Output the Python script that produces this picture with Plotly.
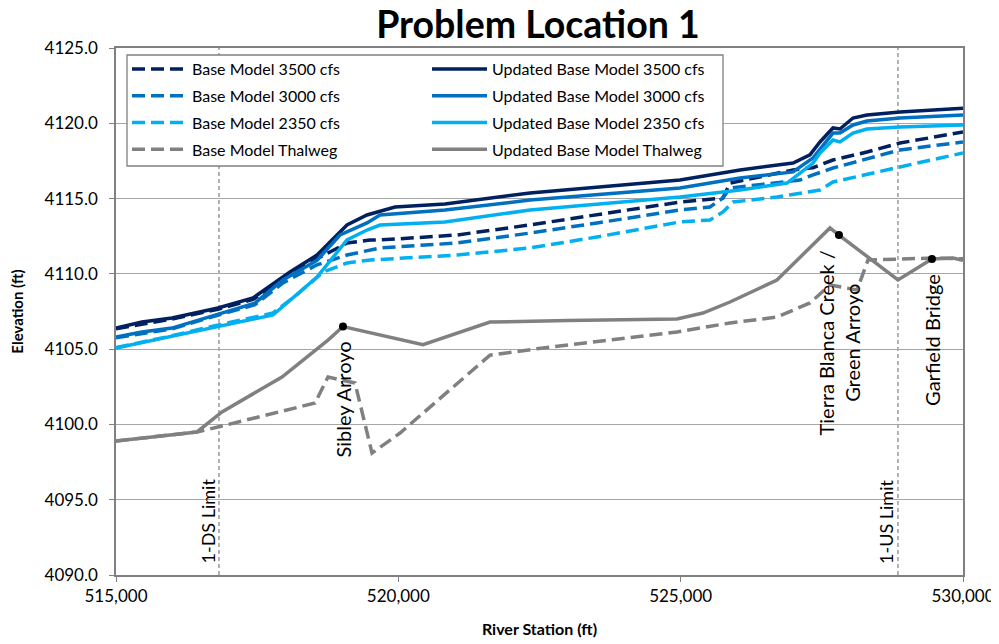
import plotly.graph_objects as go

# ---------------- data ----------------
# Updated Base Model water surfaces (solid)
upd3500_x = [515000, 515460, 515990, 516806, 517426, 518081, 518560, 519091, 519445, 519941,
             520826, 522332, 524988, 526051, 526990, 527290, 527467, 527697, 527821, 528051,
             528299, 528883, 530000]
upd3500_y = [4106.40, 4106.80, 4107.07, 4107.73, 4108.40, 4110.12, 4111.25, 4113.25, 4113.91, 4114.44,
             4114.64, 4115.37, 4116.23, 4116.90, 4117.36, 4117.90, 4118.76, 4119.69, 4119.62, 4120.35,
             4120.55, 4120.75, 4121.00]

upd3000_x = [515000, 515460, 515990, 516753, 517461, 517957, 518560, 518967, 519445, 519675,
             520826, 522332, 524988, 526051, 526990, 527344, 527697, 527821, 528051, 528299,
             528883, 530000]
upd3000_y = [4105.80, 4106.14, 4106.40, 4107.27, 4108.06, 4109.60, 4110.90, 4112.58, 4113.38, 4113.91,
             4114.24, 4114.90, 4115.70, 4116.37, 4116.77, 4117.70, 4119.35, 4119.35, 4119.89, 4120.15,
             4120.35, 4120.55]

upd2350_x = [515000, 515860, 516753, 517780, 518560, 519091, 519445, 519675, 520826, 522332,
             524988, 526051, 526883, 527344, 527467, 527697, 527821, 528051, 528299, 528883,
             530000]
upd2350_y = [4105.08, 4105.74, 4106.47, 4107.27, 4109.79, 4112.25, 4112.91, 4113.24, 4113.44, 4114.24,
             4115.10, 4115.57, 4116.03, 4117.36, 4118.03, 4118.89, 4118.76, 4119.35, 4119.62, 4119.75,
             4119.89]

# Base Model water surfaces (dashed)
base3500_x = [515000, 515990, 516806, 517426, 518081, 518560, 519091, 519498, 519675, 521039,
              522332, 523518, 524988, 525749, 525873, 526990, 527344, 527697, 528299, 528883,
              530000]
base3500_y = [4106.35, 4107.00, 4107.65, 4108.30, 4109.95, 4111.00, 4112.05, 4112.25, 4112.25, 4112.58,
              4113.25, 4113.91, 4114.77, 4115.04, 4116.03, 4116.90, 4117.05, 4117.56, 4118.09, 4118.69,
              4119.42]

base3000_x = [515000, 515990, 516753, 517461, 517957, 518560, 519091, 519498, 519675, 521039,
              522332, 523518, 524988, 525519, 525749, 525873, 527113, 527344, 527697, 528883,
              530000]
base3000_y = [4105.75, 4106.35, 4107.20, 4107.95, 4109.40, 4110.60, 4111.25, 4111.58, 4111.72, 4112.05,
              4112.71, 4113.38, 4114.24, 4114.44, 4115.04, 4115.70, 4116.23, 4116.57, 4117.03, 4118.23,
              4118.76]

base2350_x = [515000, 515860, 516753, 517780, 518200, 518666, 519091, 519498, 521039, 522332,
              523518, 524988, 525519, 525749, 525926, 526706, 527467, 527697, 528883, 530000]
base2350_y = [4105.10, 4105.78, 4106.55, 4107.40, 4108.60, 4110.12, 4110.72, 4110.92, 4111.25, 4111.72,
              4112.45, 4113.45, 4113.58, 4114.11, 4114.77, 4115.10, 4115.57, 4116.10, 4117.10, 4118.03]

# Thalwegs
upd_thal_x = [515000, 516434, 516877, 517940, 518754, 519020, 520437, 521623, 523000, 524934,
              525395, 525873, 526705, 527644, 527803, 528848, 529450, 529822, 530000]
upd_thal_y = [4098.90, 4099.50, 4100.83, 4103.15, 4105.60, 4106.50, 4105.30, 4106.80, 4106.90, 4107.00,
              4107.40, 4108.13, 4109.59, 4113.05, 4112.58, 4109.60, 4110.99, 4111.05, 4110.90]

base_thal_x = [515000, 516434, 516806, 518524, 518754, 519233, 519534, 520030, 521623, 522562,
               524935, 525873, 526706, 527290, 527645, 527822, 528123, 528318, 529469, 530000]
base_thal_y = [4098.90, 4099.50, 4099.83, 4101.42, 4103.15, 4102.75, 4098.10, 4099.43, 4104.60, 4105.08,
               4106.14, 4106.74, 4107.13, 4108.07, 4109.26, 4109.13, 4108.93, 4110.92, 4111.05, 4111.00]

# Labelled locations
site_names = ["Sibley Arroyo", "Tierra Blanca Creek /<br>Green Arroyo", "Garfield Bridge"]
site_x = [519020, 527803, 529450]
site_y = [4106.50, 4112.58, 4110.99]

# Model limits
limit_names = ["1-DS Limit", "1-US Limit"]
limit_x = [516824, 528848]

y_ticks = [4090, 4095, 4100, 4105, 4110, 4115, 4120, 4125]
x_ticks = [515000, 520000, 525000, 530000]

# ---------------- styling ----------------
NAVY = "#002060"
MED = "#0070C0"
LIGHT = "#00B0F0"
GRAY = "#808080"
FONT = "Lato"
DASH = "13px,6px"
LW = 3.5

W, H = 991, 636  # page body adds an 8px offset

fig = go.Figure()


def add(x, y, name, color, dash, legend):
    fig.add_trace(go.Scatter(
        x=x, y=y, mode="lines", name=name, legend=legend, legendgroup=name,
        line=dict(color=color, width=LW, dash=dash),
    ))


add(base3500_x, base3500_y, "Base Model 3500 cfs", NAVY, DASH, "legend")
add(base3000_x, base3000_y, "Base Model 3000 cfs", MED, DASH, "legend")
add(base2350_x, base2350_y, "Base Model 2350 cfs", LIGHT, DASH, "legend")
add(base_thal_x, base_thal_y, "Base Model Thalweg", GRAY, DASH, "legend")
add(upd3500_x, upd3500_y, "Updated Base Model 3500 cfs", NAVY, "solid", "legend2")
add(upd3000_x, upd3000_y, "Updated Base Model 3000 cfs", MED, "solid", "legend2")
add(upd2350_x, upd2350_y, "Updated Base Model 2350 cfs", LIGHT, "solid", "legend2")
add(upd_thal_x, upd_thal_y, "Updated Base Model Thalweg", GRAY, "solid", "legend2")

fig.add_trace(go.Scatter(x=site_x, y=site_y, mode="markers", showlegend=False,
                         marker=dict(color="black", size=8), hoverinfo="skip"))

# site labels
for nm, sx, sy in zip(site_names, site_x, site_y):
    fig.add_annotation(x=sx, y=sy, text=nm, textangle=-90, showarrow=False,
                       xanchor="center", yanchor="top", yshift=-13, align="center",
                       font=dict(family=FONT, size=20, color="black"))

# limit lines + labels
for nm, lx in zip(limit_names, limit_x):
    fig.add_shape(type="line", xref="x", yref="paper", x0=lx, x1=lx, y0=0, y1=1,
                  line=dict(color=GRAY, width=1.2, dash="4px,3px"), layer="below")
    fig.add_annotation(x=lx, y=0, yref="paper", text=nm, textangle=-90, showarrow=False,
                       xanchor="center", yanchor="bottom", yshift=9, xshift=-12,
                       font=dict(family=FONT, size=18, color="black"))

# legend box
fig.add_shape(type="rect", xref="paper", yref="paper",
              x0=(127 - 116) / 847, x1=(723 - 116) / 847,
              y0=1 - (166 - 48) / 527, y1=1 - (55 - 48) / 527,
              line=dict(color=GRAY, width=1.3), fillcolor="white", layer="above")

legend_common = dict(
    bgcolor="rgba(0,0,0,0)", borderwidth=0, font=dict(family=FONT, size=16, color="black"),
    yanchor="top", xanchor="left", tracegroupgap=3, traceorder="grouped", itemwidth=55,
)

fig.update_layout(
    width=W, height=H,
    margin=dict(l=108, r=36, t=40, b=69, autoexpand=False),
    paper_bgcolor="white", plot_bgcolor="white",
    title=dict(text="<b>Problem Location 1</b>", x=(538 - 8) / W, xanchor="center", y=1 - 16.5 / H,
               yanchor="middle", font=dict(family=FONT, size=37.5, color="black")),
    font=dict(family=FONT, color="black"),
    legend=dict(x=(127 - 116) / 847, y=1 - (52 - 48) / 527, **legend_common),
    legend2=dict(x=(427 - 116) / 847, y=1 - (52 - 48) / 527, **legend_common),
    xaxis=dict(range=[515000, 530000], tickvals=x_ticks, tickformat=",d", automargin=False,
               showgrid=False, showline=True, linecolor=GRAY, linewidth=1.5, mirror=True,
               ticks="outside", ticklen=5, tickcolor=GRAY, zeroline=False,
               ticklabelstandoff=0,
               tickfont=dict(family=FONT, size=17, color="black"),
               title=dict(text="<b>River Station (ft)</b>", font=dict(family=FONT, size=16, color="black"),
                          standoff=19)),
    yaxis=dict(range=[4090, 4125], tickvals=y_ticks, tickformat=".1f", automargin=False,
               showgrid=True, gridcolor="#A6A6A6", gridwidth=1.3,
               showline=True, linecolor=GRAY, linewidth=1.5, mirror=True,
               ticks="outside", ticklen=5, tickcolor=GRAY, zeroline=False,
               ticklabelstandoff=8,
               tickfont=dict(family=FONT, size=17, color="black"),
               title=dict(text="<b>Elevation (ft)</b>", font=dict(family=FONT, size=15, color="black"),
                          standoff=18)),
)

fig.write_html("out.html")
